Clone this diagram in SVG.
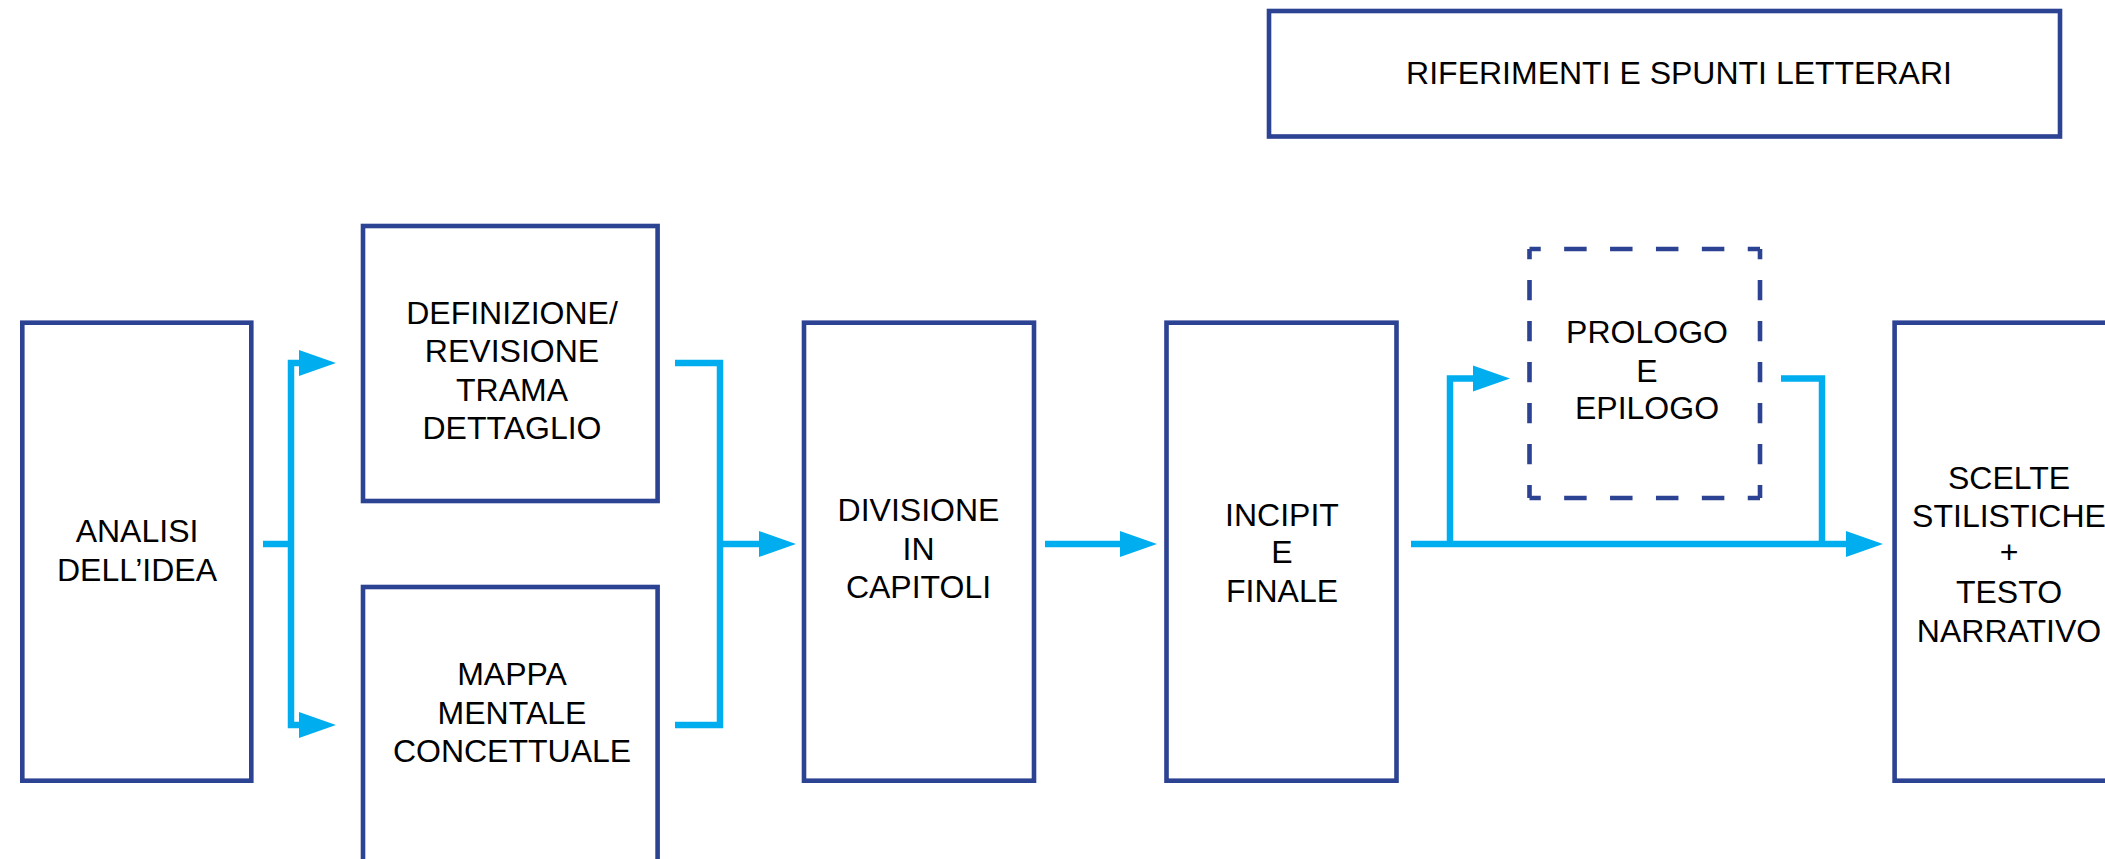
<svg xmlns="http://www.w3.org/2000/svg" width="2105" height="859" viewBox="0 0 2105 859">
<style>
.box{fill:none;stroke:#2c4292;stroke-width:4.6}
.dash{fill:none;stroke:#2c4292;stroke-width:4.6}
.con{fill:none;stroke:#00aeef;stroke-width:6.5;stroke-linejoin:miter;stroke-linecap:butt}
text{font-family:"Liberation Sans",Arial,sans-serif;font-size:32px;fill:#000;text-anchor:middle}
</style>
<defs>
<marker id="ah" markerUnits="userSpaceOnUse" markerWidth="38" markerHeight="26" refX="1" refY="13" orient="auto" overflow="visible">
<path d="M0,0 L37,13 L0,26 Z" fill="#00aeef"/>
</marker>
</defs>
<rect width="2105" height="859" fill="#fff"/>

<g id="riferimenti">
<rect class="box" x="1269" y="11" width="791" height="125.5"/>
<text x="1679" y="84">RIFERIMENTI E SPUNTI LETTERARI</text>
</g>

<g id="analisi">
<rect class="box" x="22.3" y="322.7" width="229" height="458"/>
<text x="137" y="542">ANALISI</text>
<text x="137" y="581">DELL’IDEA</text>
</g>

<g id="definizione">
<rect class="box" x="363" y="226" width="294.6" height="275"/>
<text x="512" y="324">DEFINIZIONE/</text>
<text x="512" y="362">REVISIONE</text>
<text x="512" y="401">TRAMA</text>
<text x="512" y="439">DETTAGLIO</text>
</g>

<g id="mappa">
<rect class="box" x="363" y="587" width="294.6" height="300"/>
<text x="512" y="685">MAPPA</text>
<text x="512" y="724">MENTALE</text>
<text x="512" y="762">CONCETTUALE</text>
</g>

<g id="divisione">
<rect class="box" x="804" y="322.7" width="230" height="458"/>
<text x="918.5" y="521">DIVISIONE</text>
<text x="918.5" y="560">IN</text>
<text x="918.5" y="598">CAPITOLI</text>
</g>

<g id="incipit">
<rect class="box" x="1166.5" y="322.7" width="230" height="458"/>
<text x="1282" y="526">INCIPIT</text>
<text x="1282" y="563">E</text>
<text x="1282" y="602">FINALE</text>
</g>

<g id="prologo">
<path class="dash" d="M1529.5,249 H1760 M1529.5,498 H1760" stroke-dasharray="22.5 23.4" stroke-dashoffset="11.25"/>
<path class="dash" d="M1529.5,249 V498 M1760,249 V498" stroke-dasharray="20.3 20.7" stroke-dashoffset="10"/>
<text x="1647" y="343">PROLOGO</text>
<text x="1647" y="381.5">E</text>
<text x="1647" y="419">EPILOGO</text>
</g>

<g id="scelte">
<rect class="box" x="1894.6" y="322.7" width="260" height="458"/>
<text x="2009" y="489">SCELTE</text>
<text x="2009" y="527">STILISTICHE</text>
<text x="2009" y="563">+</text>
<text x="2009" y="603">TESTO</text>
<text x="2009" y="642">NARRATIVO</text>
</g>

<g id="connectors">
<path class="con" d="M263,544 H291"/>
<path class="con" d="M291,544 V363 H300" marker-end="url(#ah)"/>
<path class="con" d="M291,544 V725 H300" marker-end="url(#ah)"/>
<path class="con" d="M675,363 H720 V544"/>
<path class="con" d="M675,725 H720 V544"/>
<path class="con" d="M717,544 H760" marker-end="url(#ah)"/>
<path class="con" d="M1045,544 H1121" marker-end="url(#ah)"/>
<path class="con" d="M1411,544 H1847" marker-end="url(#ah)"/>
<path class="con" d="M1450,547 V378.5 H1474" marker-end="url(#ah)"/>
<path class="con" d="M1781,378.5 H1822 V547"/>
</g>
</svg>
